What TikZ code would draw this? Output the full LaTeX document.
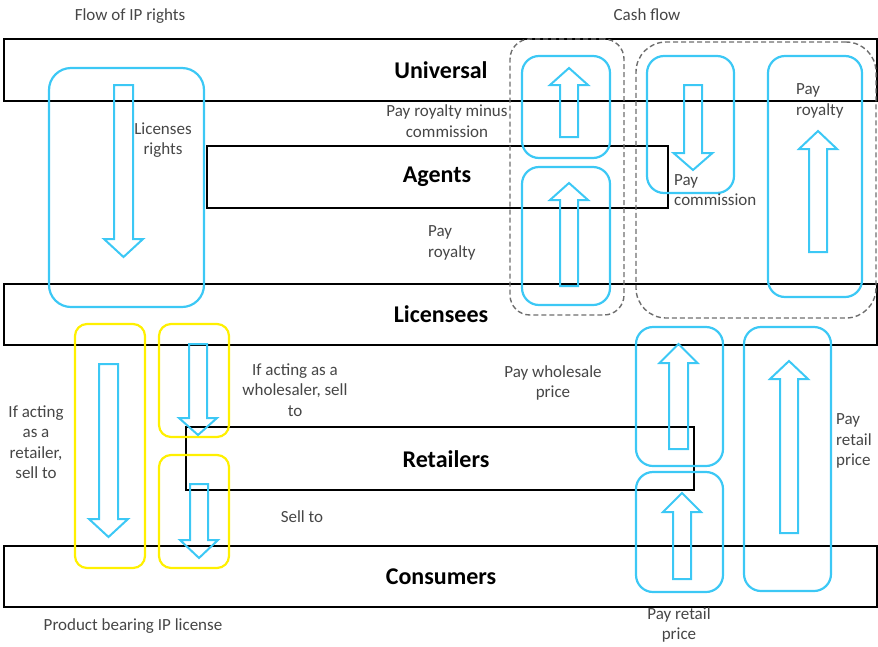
\documentclass[tikz,border=0pt]{standalone}
\usepackage{fontspec}
\setmainfont{Carlito}
\usetikzlibrary{fit}
\definecolor{cyanbox}{RGB}{60,200,245}
\definecolor{yelbox}{RGB}{255,240,0}
\definecolor{dashgray}{RGB}{110,110,110}
\definecolor{txtgray}{RGB}{70,70,70}
\newcommand\rbox[6]{\node[#1, fit={(#3,#4) (#5,#6)}, inner sep=0pt, outer sep=0pt] (#2) {};}
% center x, tail y, tip y, head base y, half shaft, half head
\newcommand\fatarrow[6]{\draw[fatarr] ({#1-#5},#2) -- ({#1-#5},#4) -- ({#1-#6},#4) -- (#1,#3) -- ({#1+#6},#4) -- ({#1+#5},#4) -- ({#1+#5},#2) -- cycle;}
\tikzset{
  band/.style={draw=black, line width=1.8pt},
  bandlbl/.style={font=\fontsize{24}{28}\selectfont\bfseries, text=black, inner sep=0pt},
  bluebox/.style={draw=cyanbox, line width=2.2pt, rounded corners=17pt},
  yelbox/.style={draw=yelbox, line width=2.2pt, rounded corners=12pt},
  dashbox/.style={draw=dashgray, line width=1.4pt, dash pattern=on 5pt off 3pt, rounded corners=#1},
  fatarr/.style={draw=cyanbox, line width=2pt, line join=miter},
  lbl/.style={font=\fontsize{17}{20.5}\selectfont, text=txtgray, inner sep=0pt}
}
\begin{document}
\begin{tikzpicture}[x=1pt,y=-1pt]
\useasboundingbox (0,0) rectangle (878,646);
% bands
\rbox{band}{universal}{4}{39}{877}{101}
\rbox{band}{agents}{207}{146}{668}{208}
\rbox{band}{licensees}{4}{284}{877}{345}
\rbox{band}{retailers}{186}{427}{694}{490}
\rbox{band}{consumers}{4}{546}{877}{607}
\node[bandlbl] (lu) at (441,70) {Universal};
\node[bandlbl] (la) at (437,177) {Agents};
\node[bandlbl] (ll) at (441,314) {Licensees};
\node[bandlbl] (lr) at (446,459) {Retailers};
\node[bandlbl] (lc) at (441,577) {Consumers};
% dashed groups
\rbox{dashbox=20pt}{dgA}{510}{39}{624}{315}
\rbox{dashbox=30pt}{dgB}{636}{42}{876}{318}
% blue boxes
\rbox{bluebox, rounded corners=22pt}{blic}{49}{68}{204}{307}
\rbox{bluebox}{bA}{522}{56}{610}{158}
\rbox{bluebox}{bB}{522}{167}{610}{305}
\rbox{bluebox}{bC}{647}{56}{734}{193}
\rbox{bluebox}{bD}{768}{56}{862}{297}
\rbox{bluebox}{bE}{636}{327}{723}{466}
\rbox{bluebox}{bF}{636}{472}{723}{592}
\rbox{bluebox}{bG}{744}{327}{831}{591}
% yellow boxes
\rbox{yelbox}{y1}{75}{324}{145}{568}
\rbox{yelbox}{y2}{159}{324}{229}{437}
\rbox{yelbox}{y3}{159}{455}{229}{568}
% block arrows
\fatarrow{123.5}{85}{257}{239}{9.5}{19.5}
\fatarrow{569}{137}{68}{85}{9}{19}
\fatarrow{569}{286}{183}{200}{9}{19}
\fatarrow{693}{85}{170}{153}{9}{19.5}
\fatarrow{818}{252}{131}{149}{9}{19}
\fatarrow{108.5}{364}{537}{519}{9.5}{19.5}
\fatarrow{198}{344}{435}{418}{9}{19}
\fatarrow{199}{484}{558}{540}{9}{19}
\fatarrow{678.5}{449}{344}{363}{9.5}{19}
\fatarrow{682}{579}{493}{512}{9}{19}
\fatarrow{789}{533}{361}{379}{9}{19}
% labels
\node[lbl] (t1) at (130,16) {Flow of IP rights};
\node[lbl] (t2) at (647,15) {Cash flow};
\node[lbl, align=center] (t3) at (163,140) {Licenses\\rights};
\node[lbl, align=center] (t4) at (447,121) {Pay royalty minus\\commission};
\node[lbl, align=left, anchor=west] (t5) at (428,243) {Pay\\royalty};
\node[lbl, align=left, anchor=west] (t6) at (674,190) {Pay\\commission};
\node[lbl, align=left, anchor=west] (t7) at (796,101) {Pay\\royalty};
\node[lbl, align=center] (t8) at (36,442) {If acting\\as a\\retailer,\\sell to};
\node[lbl, align=center] (t9) at (295,390) {If acting as a\\wholesaler, sell\\to};
\node[lbl] (t10) at (302,517) {Sell to};
\node[lbl] (t11) at (133,626) {Product bearing IP license};
\node[lbl, align=center] (t12) at (553,383) {Pay wholesale\\price};
\node[lbl, align=left, anchor=west] (t13) at (836,441) {Pay\\retail\\price};
\node[lbl, align=center] (t14) at (679,625) {Pay retail\\price};
\end{tikzpicture}
\end{document}
